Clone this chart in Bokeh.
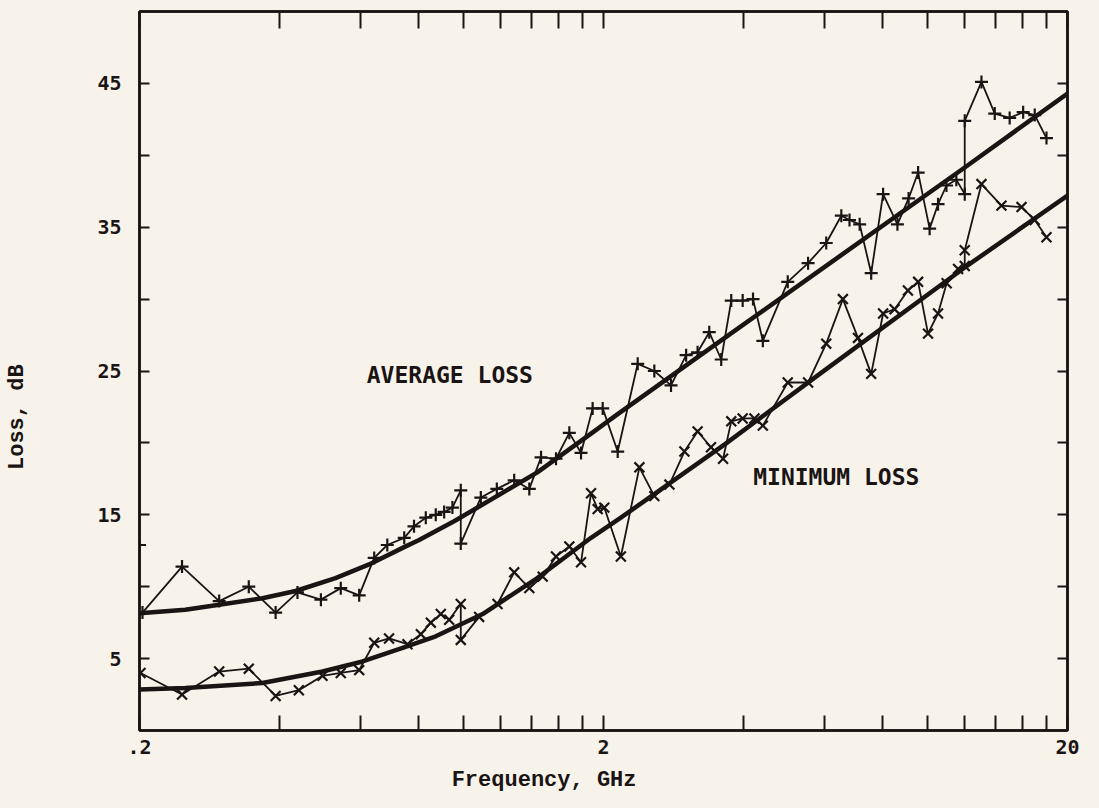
from bokeh.plotting import figure
from bokeh.models import Range1d, FixedTicker, LinearAxis, LogAxis, Label
from bokeh.embed import file_html
from bokeh.resources import INLINE

# ---------------- data ----------------
avg_freq = [0.203, 0.247, 0.297, 0.344, 0.393, 0.438, 0.492, 0.543, 0.595, 0.641,
            0.684, 0.744, 0.781, 0.828, 0.870, 0.907, 0.945, 0.985, 0.985, 1.088,
            1.178, 1.284, 1.384, 1.467, 1.580, 1.688, 1.789, 1.895, 1.992, 2.146,
            2.37, 2.574, 2.796, 3.014, 3.19, 3.38, 3.587, 3.77, 3.99, 4.2,
            4.41, 4.99, 5.52, 6.04, 6.51, 6.78, 7.13, 7.55, 8.01, 8.6,
            9.09, 9.53, 10.09, 10.52, 10.97, 11.52, 12.01, 12.01, 13.05, 13.94,
            15.01, 16.05, 17.0, 18.02]
avg_loss = [8.2, 11.4, 9.0, 10.0, 8.2, 9.6, 9.1, 9.9, 9.4, 12.0,
            12.9, 13.4, 14.2, 14.8, 15.0, 15.2, 15.5, 16.7, 13.0, 16.2,
            16.8, 17.4, 16.8, 19.0, 18.9, 20.7, 19.3, 22.4, 22.4, 19.4,
            25.5, 25.0, 24.0, 26.1, 26.3, 27.7, 25.8, 29.9, 29.9, 30.0,
            27.1, 31.2, 32.5, 33.9, 35.8, 35.5, 35.2, 31.8, 37.3, 35.2,
            37.0, 38.8, 34.9, 36.6, 37.9, 38.3, 37.3, 42.4, 45.1, 42.9,
            42.6, 43.0, 42.8, 41.2]

min_freq = [0.201, 0.247, 0.297, 0.344, 0.393, 0.441, 0.496, 0.543, 0.595, 0.641,
            0.690, 0.756, 0.808, 0.849, 0.892, 0.930, 0.985, 0.985, 1.079, 1.182,
            1.284, 1.384, 1.479, 1.580, 1.688, 1.789, 1.880, 1.943, 2.008, 2.18,
            2.39, 2.574, 2.774, 2.988, 3.19, 3.41, 3.62, 3.77, 3.99, 4.23,
            4.41, 4.99, 5.52, 6.04, 6.56, 7.07, 7.55, 8.01, 8.48, 9.06,
            9.53, 10.01, 10.52, 10.98, 11.62, 12.01, 12.01, 13.05, 14.41, 15.92,
            17.0, 18.02]
min_loss = [4.0, 2.5, 4.1, 4.3, 2.4, 2.8, 3.8, 4.0, 4.2, 6.1,
            6.4, 6.0, 6.7, 7.5, 8.1, 7.7, 8.8, 6.3, 7.9, 8.8,
            11.0, 9.9, 10.7, 12.1, 12.8, 11.7, 16.5, 15.4, 15.5, 12.1,
            18.3, 16.3, 17.1, 19.4, 20.8, 19.7, 18.9, 21.5, 21.7, 21.7,
            21.2, 24.2, 24.2, 26.9, 30.0, 27.3, 24.8, 29.0, 29.3, 30.6,
            31.2, 27.6, 29.0, 31.1, 32.1, 32.3, 33.4, 38.0, 36.5, 36.4,
            35.5, 34.3]

avg_edge_freq = [0.2]
avg_edge_loss = [12.9]

avg_fit_freq = [0.2, 0.251, 0.297, 0.368, 0.434, 0.529, 0.625, 0.738, 0.801, 0.953,
                1.44, 1.88, 2.146, 3.65, 5.85, 12.01, 20]
avg_fit_loss = [8.15, 8.4, 8.75, 9.2, 9.7, 10.6, 11.55, 12.7, 13.25, 14.55,
                17.95, 20.65, 22.0, 27.3, 32.0, 39.15, 44.3]

min_fit_freq = [0.2, 0.251, 0.368, 0.496, 0.605, 0.738, 0.870, 1.098, 1.44, 1.88,
                2.18, 3.65, 5.85, 12.01, 20]
min_fit_loss = [2.85, 2.95, 3.3, 4.1, 4.8, 5.75, 6.55, 8.1, 10.6, 13.4,
                14.8, 19.9, 24.8, 32.2, 37.2]

x_major = [0.2, 2, 20]
x_minor = [0.4, 0.6, 0.8, 1.0, 1.2, 1.4, 1.6, 1.8, 4, 6, 8, 10, 12, 14, 16, 18]
x_labels = {0.2: ".2", 2: "2", 20: "20"}
y_major = [5, 15, 25, 35, 45]
y_minor = [10, 20, 30, 40]

# ---------------- figure ----------------
BG = "#f7f3ea"
INK = "#1a1414"
TICK_FONT = "DejaVu Sans Mono"
LABEL_FONT = "Liberation Mono"
NBSP = "\u00a0"

p = figure(width=1099, height=808, x_axis_type="log",
           x_range=Range1d(0.2, 20), y_range=Range1d(0, 50),
           output_backend="svg", toolbar_location=None,
           min_border_left=139, min_border_right=32,
           min_border_top=11, min_border_bottom=78)
p.background_fill_color = BG
p.border_fill_color = BG
p.outline_line_color = INK
p.outline_line_width = 2.5
p.grid.visible = False

xt = FixedTicker(ticks=x_major, minor_ticks=x_minor)
yt = FixedTicker(ticks=y_major, minor_ticks=y_minor)

def style_axis(ax, tick_len, show_labels):
    ax.axis_line_color = INK
    ax.axis_line_width = 2.5
    ax.major_tick_line_color = INK
    ax.minor_tick_line_color = INK
    ax.major_tick_line_width = 2
    ax.minor_tick_line_width = 2
    ax.major_tick_in = tick_len
    ax.major_tick_out = 0
    ax.minor_tick_in = tick_len
    ax.minor_tick_out = 0
    if show_labels:
        ax.major_label_text_font = TICK_FONT
        ax.major_label_text_font_style = "bold"
        ax.major_label_text_font_size = "20px"
        ax.major_label_text_color = INK
    else:
        ax.major_label_text_font_size = "1px"
        ax.major_label_text_color = None
        ax.major_label_standoff = 0

xb = p.xaxis[0]
xb.ticker = xt
xb.major_label_overrides = x_labels
style_axis(xb, 15, True)
xb.major_label_standoff = 9
# the title sits left of the axis centre in the original; pad its right end
xb.axis_label = "Frequency, GHz" + NBSP * 9
xb.axis_label_text_font = LABEL_FONT
xb.axis_label_text_font_size = "22px"
xb.axis_label_text_font_style = "bold"
xb.axis_label_text_color = INK
xb.axis_label_standoff = 11

yl = p.yaxis[0]
yl.ticker = yt
style_axis(yl, 10, True)
yl.major_label_standoff = 18
# the title sits below the frame centre in the original; pad its top end
yl.axis_label = "Loss, dB" + NBSP * 7
yl.axis_label_text_font = LABEL_FONT
yl.axis_label_text_font_size = "22px"
yl.axis_label_text_font_style = "bold"
yl.axis_label_text_color = INK
yl.axis_label_standoff = 64

xtop = LogAxis(ticker=xt)
style_axis(xtop, 17, False)
p.add_layout(xtop, "above")

yr = LinearAxis(ticker=yt)
style_axis(yr, 10, False)
p.add_layout(yr, "right")

# fitted curves
p.line(avg_fit_freq, avg_fit_loss, line_color=INK, line_width=4.5, line_join="round")
p.line(min_fit_freq, min_fit_loss, line_color=INK, line_width=4.5, line_join="round")

# measured series
p.line(avg_freq, avg_loss, line_color=INK, line_width=1.8, line_join="round")
p.scatter(avg_freq, avg_loss, marker="cross", size=13, line_color=INK, line_width=2.2)
p.scatter(avg_edge_freq, avg_edge_loss, marker="cross", size=13, line_color=INK, line_width=2.2)

p.line(min_freq, min_loss, line_color=INK, line_width=1.8, line_join="round")
p.scatter(min_freq, min_loss, marker="x", size=14, line_color=INK, line_width=2.2)

# annotations
for txt, fx, fy in [("AVERAGE LOSS", 0.933, 24.7), ("MINIMUM LOSS", 6.35, 17.65)]:
    p.add_layout(Label(x=fx, y=fy, text=txt, text_font=TICK_FONT,
                       text_font_style="bold", text_font_size="23px",
                       text_color=INK, text_align="center", text_baseline="middle"))

html = file_html(p, INLINE)
html = html.replace("</head>", "<style>body{background:%s;}</style></head>" % BG, 1)
open("out.html", "w").write(html)
